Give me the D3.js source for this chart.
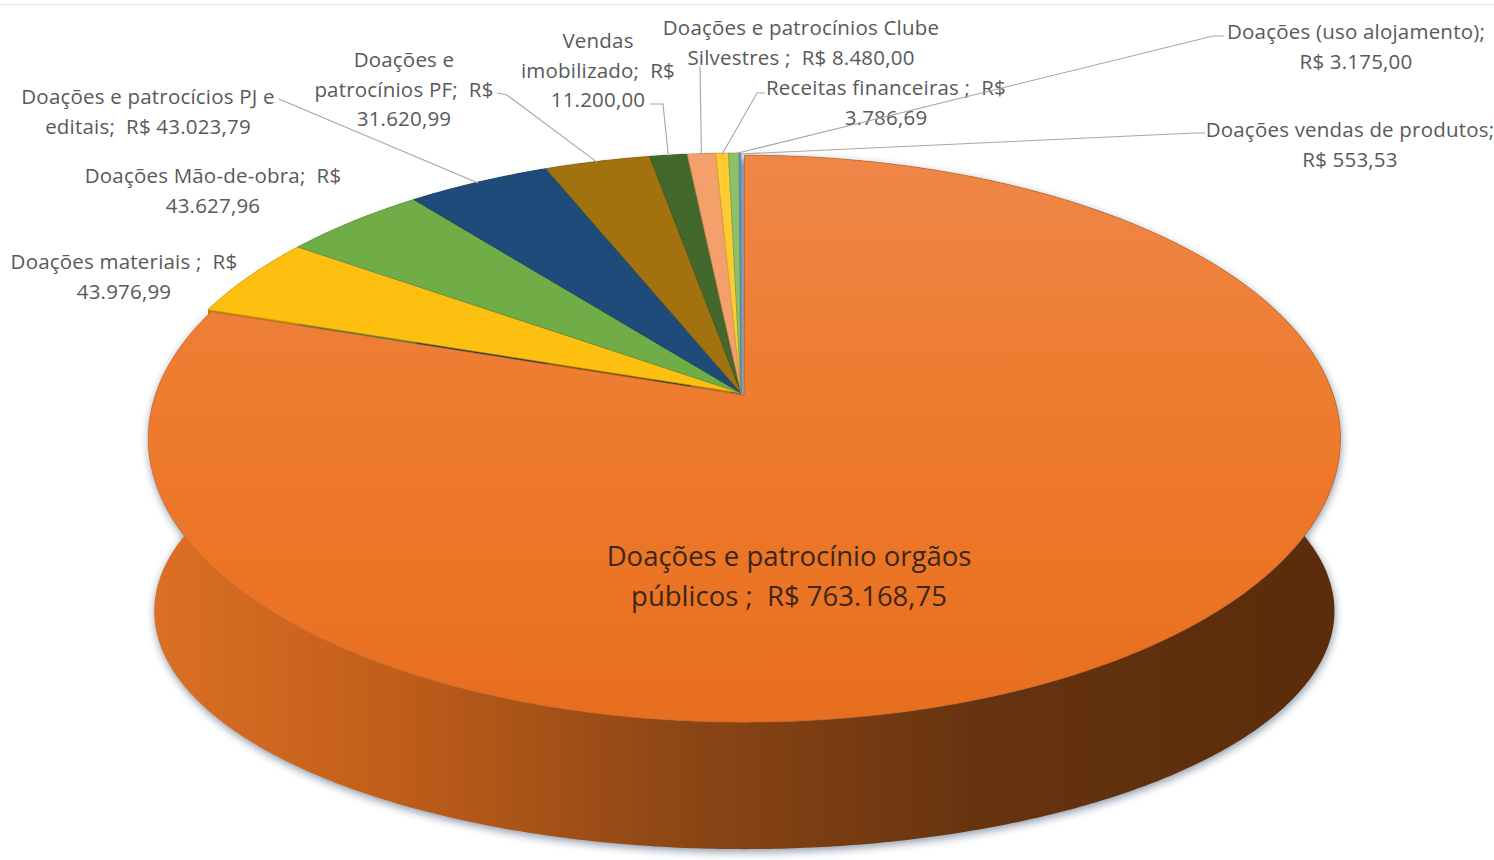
<!DOCTYPE html>
<html><head><meta charset="utf-8">
<script src="https://cdn.jsdelivr.net/npm/d3@7"></script>
<style>body{margin:0;background:#fff}svg{display:block}text{white-space:pre}</style>
</head><body><svg id="c" width="1494" height="860"></svg>
<script>
// ---------- data ----------
const categories = ["Doações e patrocínio orgãos públicos","Doações materiais","Doações Mão-de-obra","Doações e patrocícios PJ e editais","Doações e patrocínios PF","Vendas imobilizado","Doações e patrocínios Clube Silvestres","Receitas financeiras","Doações (uso alojamento)","Doações vendas de produtos"];
const values = [763168.75,43976.99,43627.96,43023.79,31620.99,11200.00,8480.00,3786.69,3175.00,553.53];
const labelLines = [
  ["Doações e patrocínio orgãos","públicos ;  R$ {v}"],
  ["Doações materiais ;  R$","{v}"],
  ["Doações Mão-de-obra;  R$","{v}"],
  ["Doações e patrocícios PJ e","editais;  R$ {v}"],
  ["Doações e","patrocínios PF;  R$","{v}"],
  ["Vendas","imobilizado;  R$","{v}"],
  ["Doações e patrocínios Clube","Silvestres ;  R$ {v}"],
  ["Receitas financeiras ;  R$","{v}"],
  ["Doações (uso alojamento);","R$ {v}"],
  ["Doações vendas de produtos;","R$ {v}"]
];
// ---------- styles / layout ----------
const colors = ["#EE7D31","#FDC010","#70AD47","#1F4B7A","#A2720F","#43682B","#F4A06B","#FFCB33","#8CC168","#5B9BD5"];
const labelLayout = [
  {x:789, y:566, lh:40, size:27.5, ls:0, color:"#3a2716"},
  {x:124, y:269}, {x:213, y:183},
  {x:148, y:104, leader:[[279,99]]},
  {x:404, y:67,  leader:[[497,93],[507,95]]},
  {x:598, y:48,  leader:[[650,104],[663,104]]},
  {x:801, y:35,  leader:[[700,66]]},
  {x:886, y:95,  leader:[[765,93],[757,93]]},
  {x:1356,y:39,  leader:[[1224,36],[1213,36]]},
  {x:1350,y:137, leader:[[1205,133],[1195,133]]}
];
const G = {cx:741, cy:393, A:589, B:276.8, k:0.1534, h0:179.3, sy:0.84, bx:0.99, explode:4};

const svg = d3.select("#c");
const W = 1494, H = 860;
svg.append("rect").attr("width",W).attr("height",H).attr("fill","#fff");
svg.append("line").attr("x1",0).attr("x2",W).attr("y1",4.5).attr("y2",4.5).attr("stroke","#e3e3e3").attr("stroke-width",1);

const defs = svg.append("defs");
const sideGrad = defs.append("linearGradient").attr("id","side").attr("gradientUnits","userSpaceOnUse")
  .attr("x1",G.cx-G.A*1.012).attr("x2",G.cx+G.A*1.012).attr("y1",0).attr("y2",0);
[[0,"#DC7024"],[0.2,"#C25E1A"],[0.45,"#8C4615"],[0.7,"#66330F"],[1,"#5A2C0B"]].forEach(([o,c])=>sideGrad.append("stop").attr("offset",o).attr("stop-color",c));
const topGrad = defs.append("linearGradient").attr("id","top").attr("gradientUnits","userSpaceOnUse")
  .attr("x1",0).attr("x2",0).attr("y1",150).attr("y2",720);
[[0,"#EF8648"],[0.5,"#EE7A2B"],[1,"#E86E1F"]].forEach(([o,c])=>topGrad.append("stop").attr("offset",o).attr("stop-color",c));
defs.append("filter").attr("id","blur").attr("x","-10%").attr("y","-10%").attr("width","120%").attr("height","130%")
  .append("feGaussianBlur").attr("stdDeviation",4);

// projection of a point on the pie plane (theta clockwise from 12 o'clock, r 0..1, bottom=true for lower face)
function P(theta, r, bottom){
  const u = r*Math.sin(theta), v = -r*Math.cos(theta);
  const s = 1/(1 - G.k*v);
  let x = G.cx + G.A*u*s, y = G.cy + G.B*v*s;
  if (bottom){ x = G.cx + (x-G.cx)*G.bx; y = G.cy + G.h0 + (y-G.cy)*G.sy; }
  return [x,y];
}
function arcPts(a0,a1,bottom){
  const n = Math.max(2, Math.ceil((a1-a0)/(Math.PI/360)));
  return d3.range(n+1).map(i=>P(a0+(a1-a0)*i/n,1,bottom));
}
const line = d3.line();

const pie = d3.pie().sort(null).value(d=>d)(values);
const offsets = pie.map((d,i)=>{
  if(i!==0) return [0,0];
  const m=(d.startAngle+d.endAngle)/2, c=P(m,0.02,false), o=P(0,0,false);
  const dx=c[0]-o[0], dy=c[1]-o[1], L=Math.hypot(dx,dy);
  return [dx/L*G.explode, dy/L*G.explode];
});

// shadow
const sh = svg.append("g").attr("filter","url(#blur)").attr("opacity",0.7).attr("transform","translate(4,5)");
sh.append("path").attr("d",line(arcPts(0,2*Math.PI,false))+"Z").attr("fill","#5d6f88");
sh.append("path").attr("d",line(arcPts(0,2*Math.PI,true))+"Z").attr("fill","#5d6f88");
sh.append("path").attr("d",line(arcPts(Math.PI*0.45,Math.PI*1.55,false).concat(arcPts(Math.PI*0.45,Math.PI*1.55,true).reverse()))+"Z").attr("fill","#5d6f88");

const gPie = svg.append("g");
// radial walls
pie.forEach((d,i)=>{
  const g = gPie.append("g").attr("transform",`translate(${offsets[i]})`);
  const dark = d3.color(colors[i]).darker(1.3);
  [d.startAngle,d.endAngle].forEach(a=>{
    const pts=[P(a,0,false),P(a,1,false),P(a,1,true),P(a,0,true)];
    g.append("path").attr("d",line(pts)+"Z").attr("fill",i===0?"#6a3410":dark);
  });
});
// outer walls
pie.forEach((d,i)=>{
  const g = gPie.append("g").attr("transform",`translate(${offsets[i]})`);
  const pts = arcPts(d.startAngle,d.endAngle,false).concat(arcPts(d.startAngle,d.endAngle,true).reverse());
  g.append("path").attr("d",line(pts)+"Z").attr("fill",i===0?"url(#side)":d3.color(colors[i]).darker(1));
});
// tops
pie.forEach((d,i)=>{
  const g = gPie.append("g").attr("transform",`translate(${offsets[i]})`);
  const pts = [P(0,0,false)].concat(arcPts(d.startAngle,d.endAngle,false));
  g.append("path").attr("d",line(pts)+"Z").attr("fill",i===0?"url(#top)":colors[i])
    .attr("stroke",d3.color(colors[i]).darker(0.6)).attr("stroke-width",0.6).attr("stroke-linejoin","round");
});

// labels
const fmt = d3.formatLocale({decimal:",",thousands:".",grouping:[3],currency:["R$ ",""]}).format(",.2f");
const gLab = svg.append("g").attr("font-family","'Open Sans', Lato, sans-serif");
pie.forEach((d,i)=>{
  const L = labelLayout[i];
  if (L.leader){
    const m=(d.startAngle+d.endAngle)/2;
    const end=P(m,1,false);
    gLab.append("path").attr("d",line(L.leader.concat([[end[0],end[1]+1]]))).attr("fill","none")
      .attr("stroke","#a6a6a6").attr("stroke-width",1.1);
  }
  const t = gLab.append("text").attr("text-anchor","middle").attr("font-size",L.size||20.5)
    .attr("letter-spacing",L.ls!==undefined?L.ls:0.2).attr("fill",L.color||"#595959");
  labelLines[i].forEach((s,j)=>{
    t.append("tspan").attr("x",L.x).attr("y",L.y+j*(L.lh||29.5)).text(s.replace("{v}",fmt(values[i])));
  });
});
</script></body></html>
